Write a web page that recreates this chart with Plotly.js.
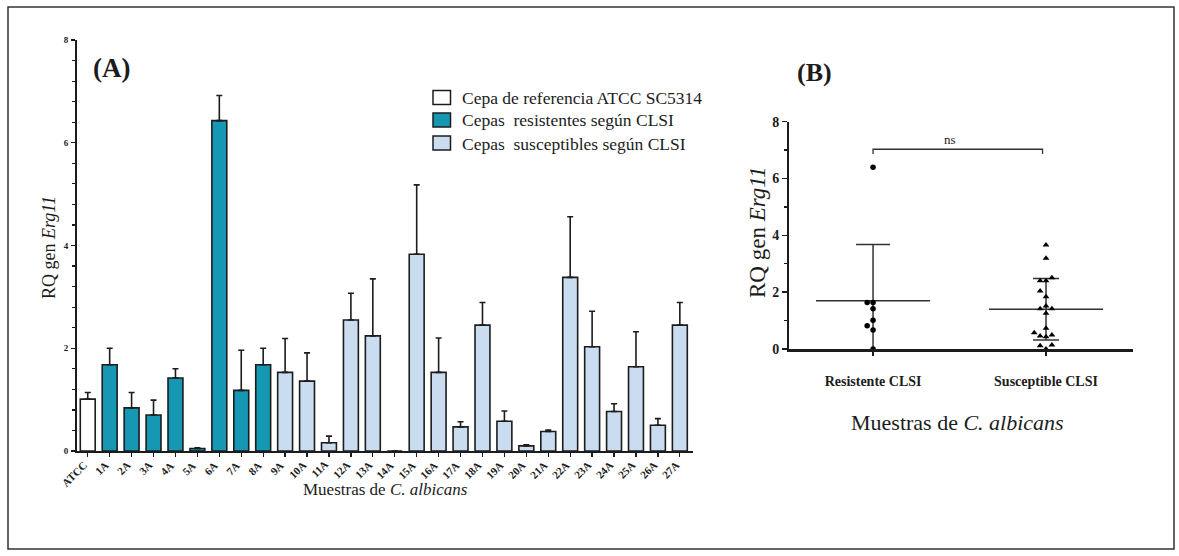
<!DOCTYPE html>
<html>
<head>
<meta charset="utf-8">
<script src="https://cdn.plot.ly/plotly-3.0.1.min.js"></script>
<style>
  html, body { margin: 0; padding: 0; background: #ffffff; }
  #chart { width: 1179px; height: 556px; }
</style>
</head>
<body>
<div id="chart"></div>
<script>
// ---------- DATA (panel A) ----------
const categories = ['ATCC','1A','2A','3A','4A','5A','6A','7A','8A','9A','10A','11A','12A','13A','14A',
  '15A','16A','17A','18A','19A','20A','21A','22A','23A','24A','25A','26A','27A'];

const refCategories = ['ATCC'];
const refValues = [1.01];
const refErrors = [0.13];

const resistantCategories = ['1A','2A','3A','4A','5A','6A','7A','8A'];
const resistantValues = [1.68, 0.84, 0.70, 1.42, 0.05, 6.43, 1.18, 1.68];
const resistantErrors = [0.32, 0.30, 0.29, 0.18, 0.01, 0.49, 0.78, 0.32];

const susceptibleCategories = ['9A','10A','11A','12A','13A','14A','15A','16A','17A','18A','19A','20A','21A',
  '22A','23A','24A','25A','26A','27A'];
const susceptibleValues = [1.53, 1.36, 0.16, 2.55, 2.24, 0.00, 3.83, 1.53, 0.47, 2.45, 0.58, 0.10, 0.38,
  3.38, 2.03, 0.77, 1.64, 0.50, 2.45];
const susceptibleErrors = [0.66, 0.55, 0.13, 0.52, 1.11, 0.00, 1.35, 0.67, 0.10, 0.44, 0.20, 0.02, 0.03,
  1.18, 0.69, 0.15, 0.68, 0.13, 0.44];

const legendNames = ['Cepa de referencia ATCC SC5314', 'Cepas\u00A0 resistentes según CLSI', 'Cepas\u00A0 susceptibles según CLSI'];

// ---------- DATA (panel B) ----------
const groupLabels = ['Resistente CLSI', 'Susceptible CLSI'];
const resistantDots = [6.40, 1.64, 1.64, 1.42, 1.01, 0.82, 0.67, 0.00];
const susceptibleDots = [3.66, 3.19, 2.51, 2.40, 2.40, 2.04, 1.84, 1.51, 1.42, 1.42, 1.26, 0.73, 0.57,
  0.49, 0.46, 0.43, 0.14, 0.11, 0.00];
const significanceLabel = 'ns';
const bracketLevel = 7.03;

// ---------- helpers ----------
const W = 1179, H = 556;
const fx = p => p / W;
const fy = p => 1 - p / H;
const SERIF = 'Liberation Serif, Times New Roman, serif';
const INK = '#1c1c1c';
const TEAL = '#1698B4';
const LIGHT = '#C9DCF0';
const legendColors = ['#ffffff', TEAL, LIGHT];

function mean(a) { return a.reduce((s, v) => s + v, 0) / a.length; }
function sd(a) { const m = mean(a); return Math.sqrt(a.reduce((s, v) => s + (v - m) * (v - m), 0) / (a.length - 1)); }

// simple deterministic beeswarm offsets
function swarm(values, center, step, pxPerUnit, minGap) {
  const order = values.map((v, i) => i).sort((a, b) => values[a] - values[b]);
  const placed = [];
  const xs = new Array(values.length);
  const tries = [0, -1, 1, -2, 2, -3, 3];
  order.forEach(i => {
    const v = values[i];
    for (const t of tries) {
      const clash = placed.some(p => p.t === t && Math.abs(p.v - v) * pxPerUnit < minGap);
      if (!clash) { placed.push({ t, v }); xs[i] = center + t * step; break; }
    }
  });
  return xs;
}

const barStyle = (color) => ({ color: color, line: { color: INK, width: 1.6 } });
const errStyle = (arr) => ({ type: 'data', array: arr, arrayminus: arr.map(() => 0), symmetric: false,
  visible: true, color: INK, thickness: 1.6, width: 3 });

const traces = [
  { type: 'bar', x: refCategories, y: refValues, name: legendNames[0], marker: barStyle(legendColors[0]),
    error_y: errStyle(refErrors), width: 0.68, xaxis: 'x', yaxis: 'y' },
  { type: 'bar', x: resistantCategories, y: resistantValues, name: legendNames[1], marker: barStyle(legendColors[1]),
    error_y: errStyle(resistantErrors), width: 0.68, xaxis: 'x', yaxis: 'y' },
  { type: 'bar', x: susceptibleCategories, y: susceptibleValues, name: legendNames[2], marker: barStyle(legendColors[2]),
    error_y: errStyle(susceptibleErrors), width: 0.68, xaxis: 'x', yaxis: 'y' }
];

// panel B
const pxPerUnitB = 28.4;
const groupsB = [resistantDots, susceptibleDots];
const symbols = ['circle', 'triangle-up'];
const capWidths = [17, 13];
groupsB.forEach((vals, gi) => {
  const m = mean(vals), s = sd(vals);
  traces.push({ type: 'scatter', mode: 'lines', x: [gi - 0.33, gi + 0.33], y: [m, m],
    line: { color: '#333', width: 1.5 }, showlegend: false, hoverinfo: 'skip', xaxis: 'x2', yaxis: 'y2' });
  traces.push({ type: 'scatter', mode: 'markers', x: [gi], y: [m],
    marker: { size: 1, color: 'rgba(0,0,0,0)' },
    error_y: { type: 'data', array: [s], visible: true, color: '#333', thickness: 1.5, width: capWidths[gi] },
    showlegend: false, hoverinfo: 'skip', xaxis: 'x2', yaxis: 'y2' });
  traces.push({ type: 'scatter', mode: 'markers', x: swarm(vals, gi, 0.034, pxPerUnitB, 6), y: vals,
    marker: { symbol: symbols[gi], size: gi === 0 ? 5.5 : 6, color: '#000' }, cliponaxis: false,
    showlegend: false, xaxis: 'x2', yaxis: 'y2' });
});

const ann = (text, x, y, size, opts) => Object.assign({ text, x: fx(x), y: fy(y), xref: 'paper', yref: 'paper',
  showarrow: false, xanchor: 'center', yanchor: 'middle', font: { family: SERIF, size, color: INK } }, opts || {});

// manual legend (boxes + text) to match the original's box size and spacing
const legendRowsY = [97.5, 120, 143];
const legendShapes = legendNames.map((n, i) => ({ type: 'rect', xref: 'paper', yref: 'paper',
  x0: fx(433), x1: fx(450.5), y0: fy(legendRowsY[i] + 7), y1: fy(legendRowsY[i] - 7),
  fillcolor: legendColors[i], line: { color: INK, width: 1.5 } }));
const legendTexts = legendNames.map((n, i) => ann(n, 460, legendRowsY[i] + 0.5, 17.5, { xanchor: 'left' }));

// rotated category labels for panel A, placed on the category axis
const catLabels = categories.map(c => ({ text: '<b>' + c + '</b>', x: c, xref: 'x', y: fy(456), yref: 'paper',
  showarrow: false, textangle: -45, xanchor: 'right', yanchor: 'top', xshift: 4,
  font: { family: SERIF, size: 11, color: INK } }));

const layout = {
  width: W, height: H, autosize: false,
  margin: { l: 0, r: 0, t: 0, b: 0 },
  paper_bgcolor: '#ffffff', plot_bgcolor: 'rgba(0,0,0,0)',
  barmode: 'overlay',
  showlegend: false,
  xaxis: { domain: [fx(77), fx(693)], type: 'category', categoryorder: 'array', categoryarray: categories,
    range: [-0.49, 27.6], showline: true, linecolor: INK, linewidth: 2, ticks: 'outside', ticklen: 4,
    tickwidth: 1.3, tickcolor: INK, showticklabels: false, showgrid: false, zeroline: false, anchor: 'y' },
  yaxis: { domain: [fy(451), fy(40)], range: [0, 8], tickvals: [0, 2, 4, 6, 8], showline: true, linecolor: INK,
    linewidth: 2, ticks: 'outside', ticklen: 4, tickwidth: 1.3, tickcolor: INK, showgrid: false, zeroline: false,
    minor: { dtick: 0.4, ticks: 'outside', ticklen: 3, tickwidth: 1.2, tickcolor: INK, showgrid: false },
    tickfont: { family: SERIF, size: 9, color: INK, weight: 'bold' }, ticklabelstandoff: 1, anchor: 'x' },
  xaxis2: { domain: [fx(789), fx(1133)], range: [-0.486, 1.503], tickvals: [0, 1], ticktext: groupLabels,
    showline: true, linecolor: INK, linewidth: 2.5, ticks: 'outside', ticklen: 4, tickwidth: 1.5, tickcolor: INK,
    showgrid: false, zeroline: false, ticklabelstandoff: 14,
    tickfont: { family: SERIF, size: 14, color: INK, weight: 'bold' }, anchor: 'y2' },
  yaxis2: { domain: [fy(349), fy(121.7)], range: [0, 8], tickvals: [0, 2, 4, 6, 8], showline: true, linecolor: INK,
    linewidth: 2, ticks: 'outside', ticklen: 5, tickwidth: 1.5, tickcolor: INK, showgrid: false, zeroline: false,
    minor: { dtick: 1, ticks: 'outside', ticklen: 3, tickwidth: 1.3, tickcolor: INK, showgrid: false },
    tickfont: { family: SERIF, size: 14, color: INK, weight: 'bold' }, anchor: 'x2' },
  shapes: [
    { type: 'rect', xref: 'paper', yref: 'paper', x0: fx(8), x1: fx(1174), y0: fy(549), y1: fy(7),
      line: { color: '#333', width: 1.5 }, fillcolor: 'rgba(0,0,0,0)', layer: 'below' },
    { type: 'path', xref: 'x2', yref: 'y2',
      path: `M 0,${bracketLevel - 0.17} L 0,${bracketLevel} L 0.98,${bracketLevel} L 0.98,${bracketLevel - 0.17}`,
      line: { color: '#333', width: 1.3 } }
  ].concat(legendShapes),
  annotations: [
    ann('<b>(A)</b>', 111, 68, 27),
    ann('<b>(B)</b>', 814, 73, 26),
    ann('RQ gen <i>Erg11</i>', 49, 247, 18, { textangle: -90 }),
    ann('Muestras de <i>C. albicans</i>', 385, 489, 17),
    ann('RQ gen <i>Erg11</i>', 757, 232, 23, { textangle: -90 }),
    ann('Muestras de <i>C. albicans</i>', 957, 422, 22),
    ann(significanceLabel, 950, 139, 13)
  ].concat(legendTexts, catLabels)
};

Plotly.newPlot('chart', traces, layout, { staticPlot: true, displayModeBar: false });
</script>
</body>
</html>
